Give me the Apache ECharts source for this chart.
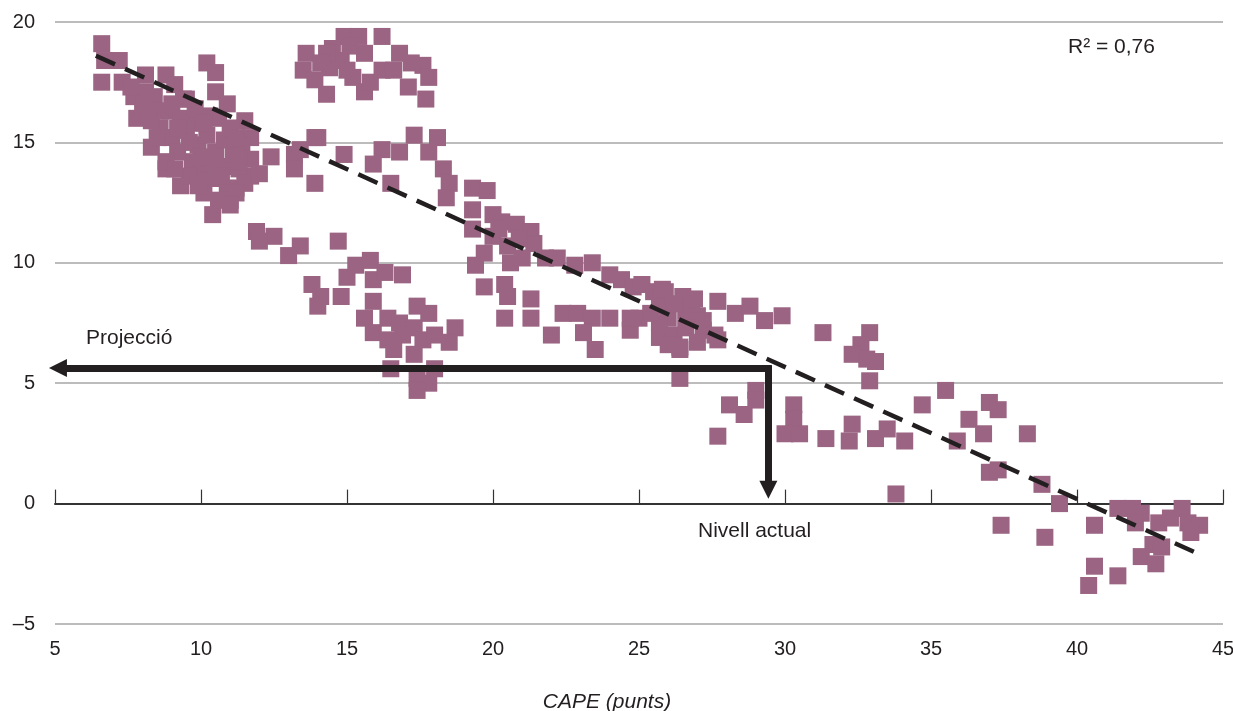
<!DOCTYPE html>
<html>
<head>
<meta charset="utf-8">
<script src="https://cdn.jsdelivr.net/npm/echarts@6.0.0/dist/echarts.min.js"></script>
<style>
  html, body { margin: 0; padding: 0; background: #fff; }
  #chart { width: 1233px; height: 711px; }
</style>
</head>
<body>
<div id="chart"></div>
<script>
// punts [CAPE, rendiment] llegits del gràfic, agrupats per zones
const puntsCapeBaix = [
  [6.6,19.1],[7.2,18.4],[6.7,18.4],[6.6,17.5],[7.3,17.5],[7.7,16.9],[8.1,17.8],[8.8,17.8],[9.1,17.4],
  [7.8,16.0],[8.3,14.8],[9.5,16.8],[9.8,15.8],[8.8,13.9],[9.3,13.2],[10.4,12.0],[10.2,18.3],[10.5,17.9],
  [10.5,17.1],[10.9,16.6],[10.6,16.0],[11.5,15.9],[11.7,15.2],[12.4,14.4],[11.7,13.6],[11.2,13.1],[11.0,12.6],
  [13.2,14.5],[13.9,15.2],[13.2,13.9],[13.9,13.3],
  [8.0,16.5],[8.4,16.9],[8.9,16.3],[9.3,16.0],[8.6,15.6],[9.0,15.2],[9.5,15.5],[9.9,14.9],[10.2,15.3],
  [10.5,14.6],[9.7,14.2],[9.2,14.6],[8.8,14.2],[10.0,13.8],[10.4,13.5],[10.8,14.0],[11.1,14.5],[11.4,14.9],
  [10.8,15.1],[10.3,16.1],[9.8,16.4],[8.3,15.9],[11.3,13.9],[10.9,13.1],[9.6,13.6],[10.1,12.9],[11.5,13.3],
  [9.1,13.9],[8.5,15.2],[11.0,15.6],[9.4,16.8],[8.1,17.1],[7.6,17.3],[10.3,14.1],[11.7,14.3],[12.0,13.7],
  [11.2,12.9],[8.6,16.3],[9.2,15.6],[9.6,15.0],[10.0,14.4],[10.7,13.6],[9.9,13.2],[10.6,12.6],[11.3,14.2],
  [9.0,16.6],[8.2,16.2],[10.1,15.8],[11.2,15.2]
];
const puntsGrupAlt = [
  [14.9,19.4],[15.4,19.4],[16.2,19.4],[14.5,18.9],[13.6,18.7],[13.5,18.0],[13.9,17.6],[14.3,17.0],[14.4,18.1],
  [14.8,18.4],[15.2,17.7],[15.6,17.1],[15.8,17.5],[15.6,18.7],[16.2,18.0],[16.8,18.7],[16.6,18.0],[17.1,17.3],
  [17.6,18.2],[17.8,17.7],[17.7,16.8],[17.2,18.3],[14.3,18.7],[15.1,19.0],[15.0,18.0],[14.1,18.3]
];
const puntsGrupMig = [
  [14.0,15.2],[13.4,14.7],[14.9,14.5],[16.2,14.7],[15.9,14.1],[16.5,13.3],[16.8,14.6],[17.3,15.3],[18.1,15.2],
  [17.8,14.6],[18.3,13.9],[18.5,13.3],[18.4,12.7],[19.3,13.1],[19.3,12.2],[19.8,13.0]
];
const puntsGrupBaix = [
  [11.0,12.4],[11.9,11.3],[12.5,11.1],[12.0,10.9],[13.4,10.7],[13.0,10.3],[14.7,10.9],[13.8,9.1],[14.1,8.6],
  [14.0,8.2],[15.0,9.4],[15.3,9.9],[15.8,10.1],[15.9,9.3],[16.3,9.6],[14.8,8.6],[16.9,9.5],[15.9,8.4],
  [15.6,7.7],[15.9,7.1],[16.4,7.7],[16.4,6.8],[16.6,6.4],[16.8,7.5],[17.4,8.2],[17.8,7.9],[17.3,7.3],
  [17.6,6.8],[18.0,7.0],[17.3,6.2],[18.7,7.3],[18.5,6.7],[16.5,5.6],[18.0,5.6],[17.4,5.2],[17.8,5.0],
  [17.4,4.7],[16.9,7.0]
];
const puntsCapeMig = [
  [19.3,11.4],[20.0,12.0],[20.3,11.7],[20.8,11.6],[21.3,11.3],[21.4,10.8],[20.0,11.1],[19.7,10.4],[19.4,9.9],
  [20.5,10.7],[20.6,10.0],[21.0,10.2],[19.7,9.0],[20.4,9.1],[20.5,8.6],[21.3,8.5],[20.4,7.7],[21.3,7.7],
  [22.0,7.0],[21.8,10.2],[22.2,10.2],[22.8,9.9],[23.4,10.0],[24.0,9.5],[24.4,9.3],[24.8,9.0],[25.1,9.1],
  [25.5,8.8],[25.9,8.8],[26.5,8.6],[22.4,7.9],[22.9,7.9],[23.4,7.7],[24.0,7.7],[23.1,7.1],[23.5,6.4],
  [24.7,7.2],[24.7,7.7],[25.0,7.7],[25.7,8.2],[26.0,7.7],[25.7,6.9],[26.2,7.0],[26.4,6.4],[26.6,8.0],
  [27.0,7.8],[27.2,7.2],[27.6,7.0],[27.7,8.4],[26.4,5.2],[25.8,8.9],[25.7,7.5],[26.4,6.5],[26.8,7.9],
  [27.2,7.6],[27.7,6.8],[28.3,7.9],[28.8,8.2],[29.3,7.6],[29.9,7.8],[26.2,8.3],[26.9,8.5],[26.6,7.3],
  [25.4,7.9],[26.0,6.6],[27.0,6.7],[20.9,11.0],[20.2,11.4]
];
const puntsCapeAlt = [
  [29.0,4.7],[29.0,4.3],[28.1,4.1],[28.6,3.7],[27.7,2.8],[30.3,4.1],[30.3,3.5],[30.0,2.9],[30.5,2.9],
  [31.3,7.1],[31.4,2.7],[32.9,7.1],[32.6,6.6],[32.3,6.2],[32.8,6.0],[33.1,5.9],[32.9,5.1],[32.3,3.3],
  [32.2,2.6],[33.1,2.7],[33.5,3.1],[34.1,2.6],[34.7,4.1],[33.8,0.4],[35.5,4.7],[35.9,2.6],[36.3,3.5],
  [37.0,4.2],[37.3,3.9],[36.8,2.9],[37.0,1.3],[37.3,1.4],[38.3,2.9],[38.8,0.8],[39.4,0.0],[37.4,-0.9],
  [38.9,-1.4]
];
const puntsCapeMoltAlt = [
  [40.6,-0.9],[40.6,-2.6],[40.4,-3.4],[41.4,-3.0],[41.4,-0.2],[41.9,-0.2],[42.2,-0.4],[42.0,-0.8],[42.8,-0.8],
  [43.2,-0.6],[43.6,-0.2],[43.8,-0.8],[44.2,-0.9],[43.9,-1.2],[42.6,-1.7],[42.9,-1.8],[42.2,-2.2],[42.7,-2.5]
];

// recta de regressió (extrems llegits del gràfic)
const recta = [[6.4, 18.6], [44.0, -2.0]];
// fletxes: nivell actual del CAPE i projecció
const fletxaNivell = [[29.43, 5.75], [29.43, 0.58]];
const fletxaProjeccio = [[29.53, 5.63], [5.1, 5.63]];

const ticksX = [5, 10, 15, 20, 25, 30, 35, 40, 45];
const ticksY = [-5, 0, 5, 10, 15, 20];

const FONT = '"Liberation Sans", Arial, sans-serif';
const TEXT = '#231f20';
const COLOR_PUNT = '#9a6482';

const punts = [].concat(puntsCapeBaix, puntsGrupAlt, puntsGrupMig, puntsGrupBaix,
  puntsCapeMig, puntsCapeAlt, puntsCapeMoltAlt);

const myChart = echarts.init(document.getElementById('chart'), null, { renderer: 'canvas' });

const option = {
  animation: false,
  backgroundColor: '#fff',
  textStyle: { fontFamily: FONT },
  grid: { left: 55, right: 10, top: 22, bottom: 87, outerBoundsMode: 'none', containLabel: false },
  xAxis: [
    {
      type: 'value',
      min: ticksX[0],
      max: ticksX[ticksX.length - 1],
      interval: 5,
      position: 'bottom',
      axisLine: { show: false, onZero: false },
      axisTick: { show: false },
      splitLine: { show: false },
      axisLabel: { fontSize: 20, color: TEXT, margin: 15, fontFamily: FONT },
      name: 'CAPE (punts)',
      nameLocation: 'middle',
      nameGap: 68,
      nameTextStyle: { fontSize: 21, fontStyle: 'italic', color: TEXT, fontFamily: FONT, padding: [0, 64, 0, 0] }
    },
    {
      // línia de l'eix sobre el zero, amb marques cap amunt
      type: 'value',
      min: ticksX[0],
      max: ticksX[ticksX.length - 1],
      interval: 5,
      position: 'bottom',
      axisLine: { show: true, onZero: true, lineStyle: { color: '#333', width: 2 } },
      axisTick: { show: true, inside: true, length: 14, lineStyle: { color: '#333', width: 1.2 } },
      axisLabel: { show: false },
      splitLine: { show: false }
    }
  ],
  yAxis: {
    type: 'value',
    min: ticksY[0],
    max: ticksY[ticksY.length - 1],
    interval: 5,
    axisLine: { show: false },
    axisTick: { show: false },
    splitLine: { show: true, lineStyle: { color: '#a6a6a6', width: 1.5 } },
    axisLabel: {
      fontSize: 20, color: TEXT, margin: 20, fontFamily: FONT,
      formatter: v => (v < 0 ? '\u2013' + Math.abs(v) : String(v))
    }
  },
  series: [
    {
      type: 'scatter',
      data: punts,
      symbol: 'rect',
      symbolSize: 17,
      itemStyle: { color: COLOR_PUNT, opacity: 1 },
      silent: true,
      z: 2
    },
    {
      type: 'line',
      data: recta,
      showSymbol: false,
      symbol: 'none',
      lineStyle: { color: TEXT, width: 4.5, type: [21, 11] },
      silent: true,
      z: 3
    },
    {
      type: 'lines',
      coordinateSystem: 'cartesian2d',
      clip: false,
      symbol: ['none', 'triangle'],
      symbolSize: 18,
      lineStyle: { color: TEXT, width: 7, opacity: 1 },
      itemStyle: { color: TEXT },
      data: [{ coords: fletxaNivell }, { coords: fletxaProjeccio }],
      silent: true,
      z: 4
    }
  ],
  graphic: [
    { type: 'text', left: 86, top: 328, style: { text: 'Projecció', font: '21px ' + FONT, fill: TEXT } },
    { type: 'text', left: 698, top: 521, style: { text: 'Nivell actual', font: '21px ' + FONT, fill: TEXT } },
    { type: 'text', left: 1068, top: 37, style: { text: 'R\u00b2 = 0,76', font: '21px ' + FONT, fill: TEXT } }
  ]
};

myChart.setOption(option);
</script>
</body>
</html>
